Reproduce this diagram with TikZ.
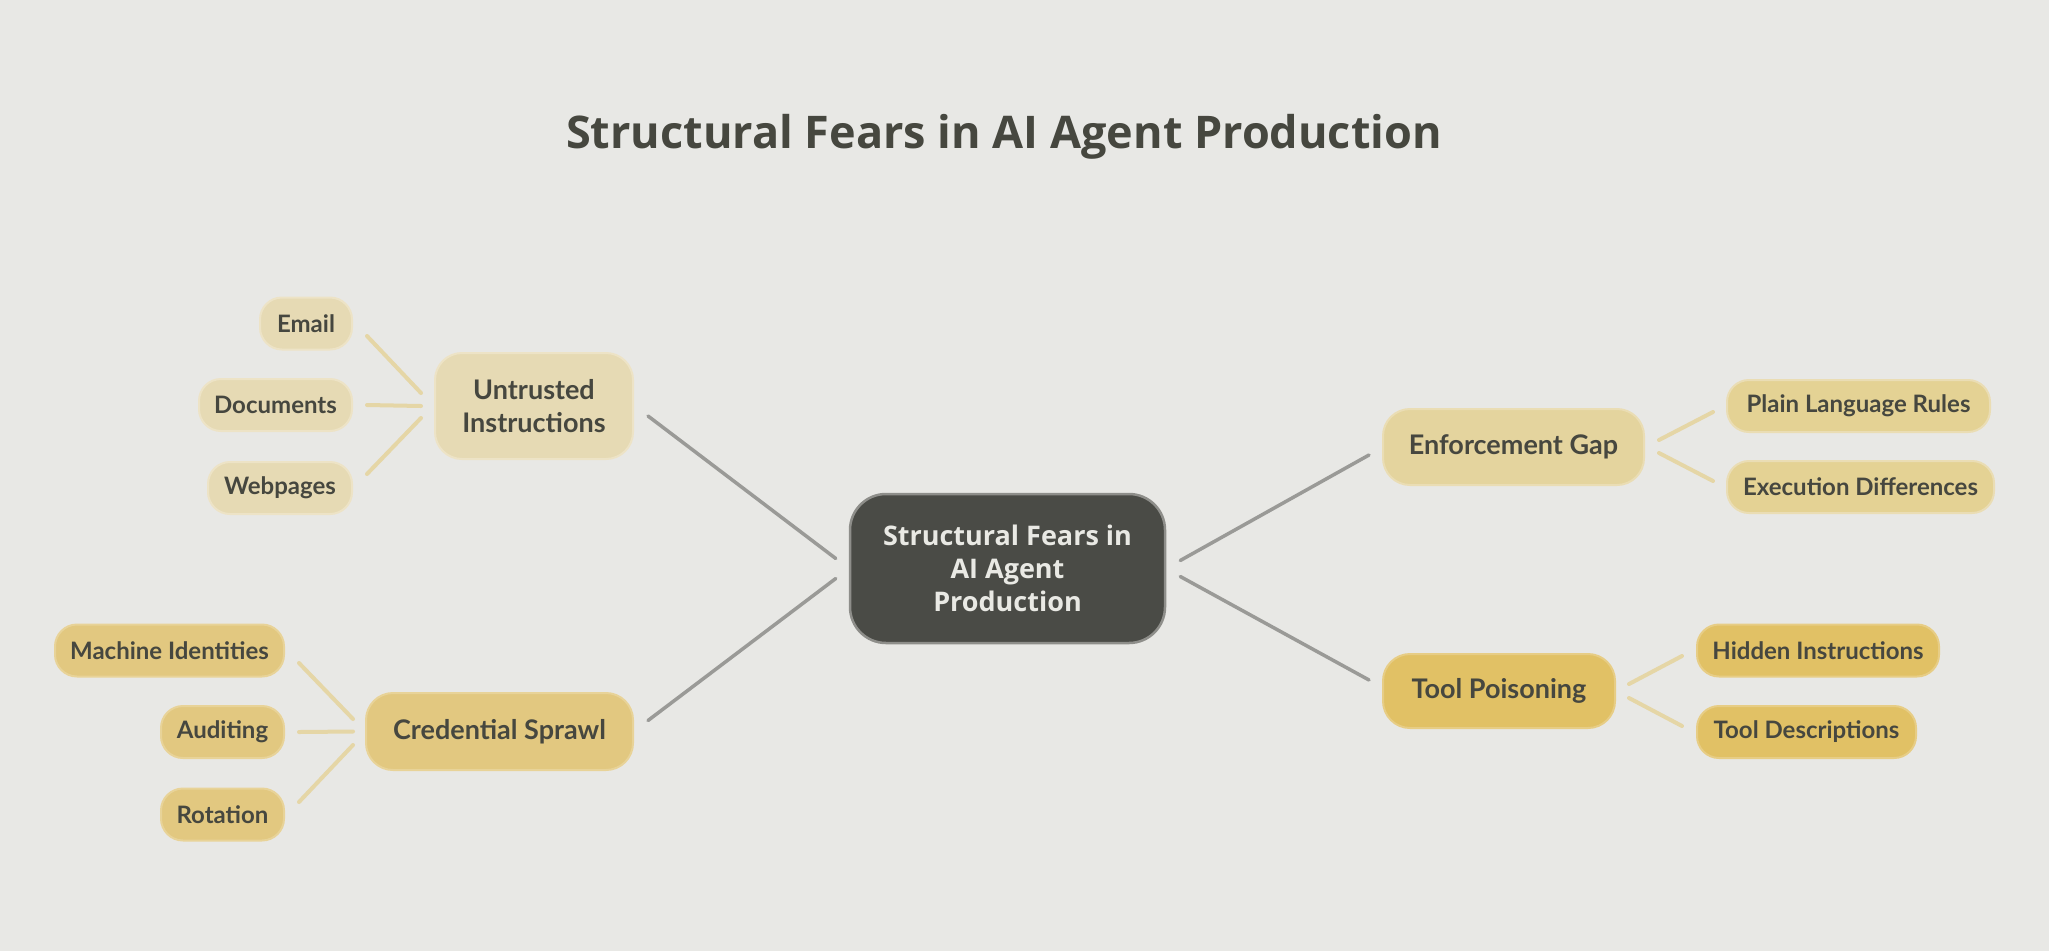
\documentclass[tikz,border=0pt]{standalone}
\usepackage{fontspec}
\setmainfont{Lato}
\newfontfamily\headfont{Open Sans}
\usetikzlibrary{calc}
\definecolor{bgc}{HTML}{E8E8E5}
\definecolor{txt}{HTML}{46473F}
\definecolor{ctxt}{HTML}{E9E9E4}
\definecolor{cfill}{HTML}{4A4B46}
\definecolor{cborder}{HTML}{8E8E8A}
\definecolor{ufill}{HTML}{E6DAB4}
\definecolor{uborder}{HTML}{EDE3C6}
\definecolor{efill}{HTML}{E4D49E}
\definecolor{eborder}{HTML}{EADDB4}
\definecolor{ekid}{HTML}{E4D294}
\definecolor{csfill}{HTML}{E2C880}
\definecolor{csborder}{HTML}{E8D398}
\definecolor{tfill}{HTML}{E1C165}
\definecolor{tborder}{HTML}{E7CD85}
\definecolor{kidline}{HTML}{E5D6A6}
\definecolor{mainline}{HTML}{9A9A97}
\tikzset{
  box/.style={rectangle, inner sep=0pt, align=center, text=txt, line width=2pt},
  kid/.style={box, rounded corners=22pt, minimum height=52pt, font=\fontsize{24}{28}\selectfont\bfseries},
  mid/.style={box, rounded corners=27pt, font=\fontsize{27}{33}\selectfont\bfseries},
  hub/.style={rectangle, inner sep=0pt, align=center, rounded corners=36pt, fill=cfill, draw=cborder, line width=2.5pt, text=ctxt, font=\headfont\bfseries\fontsize{27}{33}\selectfont},
  mainconn/.style={draw=mainline, line width=3.5pt, line cap=round},
  kidconn/.style={draw=kidline, line width=4pt, line cap=round},
}
\begin{document}
\begin{tikzpicture}[x=1pt, y=-1pt]
\fill[bgc] (0,0) rectangle (2049,951);
\useasboundingbox (0,0) rectangle (2049,951);

\node[text=txt, font=\headfont\bfseries\fontsize{45}{52}\selectfont] (title) at (1004,137) {Structural Fears in AI Agent Production};

\node[hub, minimum width=315pt, minimum height=149pt] (c) at (1007.5,568.5) {Structural Fears in\\AI Agent\\Production};

\node[mid, fill=ufill, draw=uborder, minimum width=198pt, minimum height=106pt] (u) at (534,406) {Untrusted\\Instructions};
\node[mid, fill=csfill, draw=csborder, minimum width=267pt, minimum height=77pt] (cs) at (499.5,731.5) {Credential Sprawl};
\node[mid, fill=efill, draw=eborder, minimum width=261pt, minimum height=76pt] (eg) at (1513.5,447) {Enforcement Gap};
\node[mid, fill=tfill, draw=tborder, minimum width=232pt, minimum height=74pt] (tp) at (1499,691) {Tool Poisoning};

\node[kid, fill=ufill, draw=uborder, minimum width=92pt] (em) at (306,323.5) {Email};
\node[kid, fill=ufill, draw=uborder, minimum width=153pt] (doc) at (275.5,405) {Documents};
\node[kid, fill=ufill, draw=uborder, minimum width=144pt] (web) at (280,488) {Webpages};

\node[kid, fill=csfill, draw=csborder, minimum width=229pt] (mi) at (169.5,650.5) {Machine Identities};
\node[kid, fill=csfill, draw=csborder, minimum width=123pt] (au) at (222.5,732) {Auditing};
\node[kid, fill=csfill, draw=csborder, minimum width=123pt] (ro) at (222.5,814.5) {Rotation};

\node[kid, fill=ekid, draw=eborder, minimum width=263pt] (plr) at (1858.5,406) {Plain Language Rules};
\node[kid, fill=ekid, draw=eborder, minimum width=267pt] (ed) at (1860.5,487) {Execution Differences};

\node[kid, fill=tfill, draw=tborder, minimum width=242pt] (hi) at (1818,650.5) {Hidden Instructions};
\node[kid, fill=tfill, draw=tborder, minimum width=219pt] (td) at (1806.5,732) {Tool Descriptions};

\draw[mainconn] ($(c.west)+(-13,-10)$) -- ($(u.east)+(14,10)$);
\draw[mainconn] ($(c.west)+(-13,10)$) -- ($(cs.east)+(14,-11)$);
\draw[mainconn] ($(c.east)+(14,-8)$) -- ($(eg.west)+(-13,8)$);
\draw[mainconn] ($(c.east)+(14,8)$) -- ($(tp.west)+(-13,-11)$);

\draw[kidconn] ($(em.east)+(14,12.5)$) -- ($(u.west)+(-13,-13)$);
\draw[kidconn] ($(doc.east)+(14,0)$) -- ($(u.west)+(-13,0)$);
\draw[kidconn] ($(web.east)+(14,-14)$) -- ($(u.west)+(-13,12)$);

\draw[kidconn] ($(mi.east)+(14,12.5)$) -- ($(cs.west)+(-12,-12.5)$);
\draw[kidconn] ($(au.east)+(14,0)$) -- ($(cs.west)+(-12,0)$);
\draw[kidconn] ($(ro.east)+(14,-12.5)$) -- ($(cs.west)+(-12,13.5)$);

\draw[kidconn] ($(eg.east)+(14,-7)$) -- ($(plr.west)+(-13,6)$);
\draw[kidconn] ($(eg.east)+(14,6)$) -- ($(ed.west)+(-13,-6)$);

\draw[kidconn] ($(tp.east)+(13,-7)$) -- ($(hi.west)+(-14,5.5)$);
\draw[kidconn] ($(tp.east)+(13,7)$) -- ($(td.west)+(-14,-6)$);
\end{tikzpicture}
\end{document}
